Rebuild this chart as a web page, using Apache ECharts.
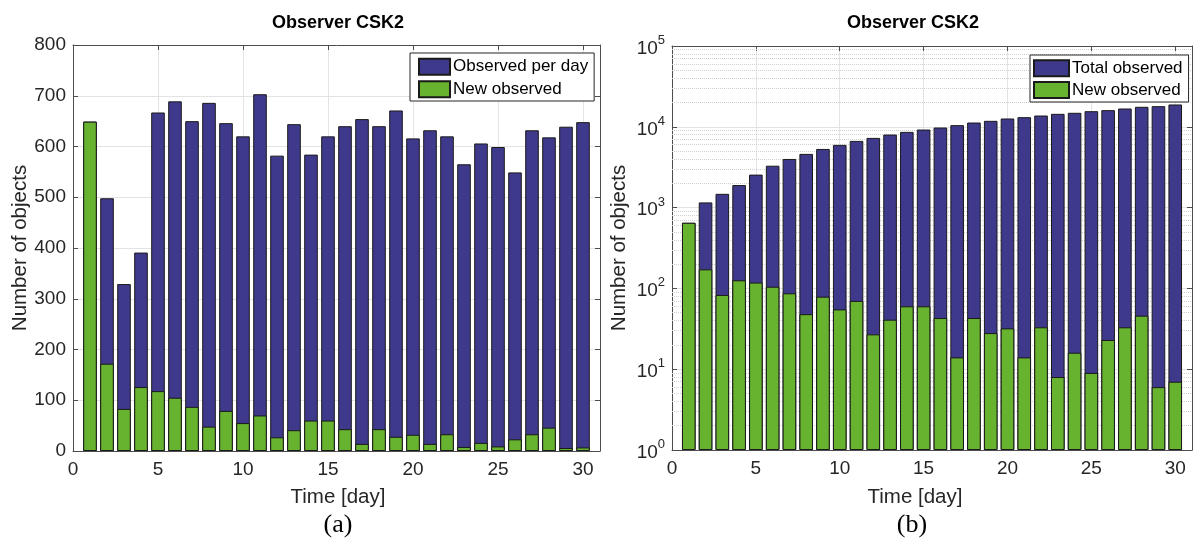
<!DOCTYPE html>
<html>
<head>
<meta charset="utf-8">
<script src="https://cdn.jsdelivr.net/npm/echarts@6/dist/echarts.min.js"></script>
<style>
html,body{margin:0;padding:0;background:#fff;}
#c{width:1195px;height:543px;}
</style>
</head>
<body>
<div id="c"></div>
<script>
const days = [1,2,3,4,5,6,7,8,9,10,11,12,13,14,15,16,17,18,19,20,21,22,23,24,25,26,27,28,29,30];
const observedPerDay = [649,498,329,391,667,689,650,686,646,620,703,582,644,584,620,640,654,640,671,616,632,620,565,606,599,549,632,618,639,648];
const newObserved = [649,172,83,126,118,105,87,48,79,55,70,27,41,60,60,43,14,43,28,32,14,33,8,16,9,23,33,46,6,7];
const totalObserved = [649,1160,1480,1900,2560,3300,4000,4620,5320,5970,6690,7290,8020,8650,9250,9800,10480,11300,11850,12670,13160,13790,14470,14900,15610,16080,16850,17680,18010,18900];
const xTicks = [0,5,10,15,20,25,30];
const minorMultipliers = [2,3,4,5,6,7,8,9];
const decades = [1,10,100,1000,10000];

const FONT = 'Liberation Sans';
const TXT = '#262626';
const AXC = '#4d4d4d';
const GRIDC = '#e3e3e3';
const BLUE = '#3f398c';
const GREEN = '#67b22e';
const EDGE = '#1a1a1a';

const minorVals = [];
decades.forEach(d => minorMultipliers.forEach(m => minorVals.push(d * m)));

function xAxisBottom(grid) {
  return {
    gridIndex: grid, type: 'value', min: 0, max: 31, interval: 5, position: 'bottom',
    axisLine: { show: true, onZero: false, lineStyle: { color: AXC, width: 1 } },
    axisTick: { show: true, inside: true, length: 5, lineStyle: { color: AXC } },
    axisLabel: { fontFamily: FONT, fontSize: 19, color: TXT, margin: 9,
      formatter: v => (xTicks.indexOf(v) >= 0 ? String(v) : '') },
    splitLine: { show: true, lineStyle: { color: GRIDC, width: 1 } }
  };
}
function xAxisTop(grid) {
  return {
    gridIndex: grid, type: 'value', min: 0, max: 31, interval: 5, position: 'top',
    axisLine: { show: true, onZero: false, lineStyle: { color: AXC, width: 1 } },
    axisTick: { show: true, inside: true, length: 5, lineStyle: { color: AXC } },
    axisLabel: { show: false }, splitLine: { show: false }
  };
}

const chart = echarts.init(document.getElementById('c'), null, { renderer: 'canvas' });
const option = {
  animation: false,
  backgroundColor: '#fff',
  grid: [
    { left: 73, top: 45, width: 527, height: 406, containLabel: false },
    { left: 672, top: 46, width: 527, height: 404, containLabel: false }
  ],
  xAxis: [xAxisBottom(0), xAxisTop(0), xAxisBottom(1), xAxisTop(1)],
  yAxis: [
    {
      gridIndex: 0, type: 'value', min: 0, max: 800, interval: 100, position: 'left',
      name: 'Number of objects', nameLocation: 'middle', nameGap: 42, nameRotate: 90,
      nameTextStyle: { fontFamily: FONT, fontSize: 20.5, color: TXT },
      axisLine: { show: true, onZero: false, lineStyle: { color: AXC } },
      axisTick: { show: true, inside: true, length: 5, lineStyle: { color: AXC } },
      axisLabel: { fontFamily: FONT, fontSize: 19, color: TXT, margin: 7 },
      splitLine: { show: true, lineStyle: { color: GRIDC } }
    },
    {
      gridIndex: 0, type: 'value', min: 0, max: 800, interval: 100, position: 'right',
      axisLine: { show: true, onZero: false, lineStyle: { color: AXC } },
      axisTick: { show: true, inside: true, length: 5, lineStyle: { color: AXC } },
      axisLabel: { show: false }, splitLine: { show: false }
    },
    {
      gridIndex: 1, type: 'log', logBase: 10, min: 1, max: 100000, position: 'left',
      name: 'Number of objects', nameLocation: 'middle', nameGap: 42, nameRotate: 90,
      nameTextStyle: { fontFamily: FONT, fontSize: 20.5, color: TXT },
      axisLine: { show: true, onZero: false, lineStyle: { color: AXC } },
      axisTick: { show: true, inside: true, length: 5, lineStyle: { color: AXC } },
      axisLabel: {
        margin: 7,
        formatter: v => '{b|10}{s|' + Math.round(Math.log10(v)) + '}',
        rich: {
          b: { fontFamily: FONT, fontSize: 19, color: TXT, lineHeight: 24, verticalAlign: 'bottom' },
          s: { fontFamily: FONT, fontSize: 13, color: TXT, lineHeight: 24, verticalAlign: 'top' }
        }
      },
      splitLine: { show: true, lineStyle: { color: GRIDC } }
    },
    {
      gridIndex: 1, type: 'log', logBase: 10, min: 1, max: 100000, position: 'right',
      axisLine: { show: true, onZero: false, lineStyle: { color: AXC } },
      axisTick: { show: true, inside: true, length: 5, lineStyle: { color: AXC } },
      axisLabel: { show: false }, splitLine: { show: false }
    }
  ],
  legend: [
    {
      orient: 'vertical', left: 410, top: 53, icon: 'rect', z: 10,
      data: ['Observed per day', 'New observed'],
      itemWidth: 31, itemHeight: 16, itemGap: 2.6,
      padding: [3.7, 6, 1.7, 8],
      borderColor: '#262626', borderWidth: 1, backgroundColor: '#fff',
      selectedMode: false,
      textStyle: { fontFamily: FONT, fontSize: 17, color: '#000', lineHeight: 20, padding: [0, 0, 0, -2] }
    },
    {
      orient: 'vertical', left: 1030, top: 55, icon: 'rect', z: 10,
      data: ['Total observed', 'New observed'],
      itemWidth: 35, itemHeight: 16, itemGap: 1.7,
      padding: [3.3, 6, 2, 3],
      borderColor: '#262626', borderWidth: 1, backgroundColor: '#fff',
      selectedMode: false,
      textStyle: { fontFamily: FONT, fontSize: 17, color: '#000', lineHeight: 20, padding: [0, 0, 0, -2] }
    }
  ],
  series: [
    {
      name: 'Observed per day', type: 'bar', xAxisIndex: 0, yAxisIndex: 0,
      data: days.map((d, i) => [d, observedPerDay[i]]),
      barWidth: 13.6, barGap: '-100%', z: 3,
      itemStyle: { color: BLUE, borderColor: EDGE, borderWidth: 1 }
    },
    {
      name: 'New observed', type: 'bar', xAxisIndex: 0, yAxisIndex: 0,
      data: days.map((d, i) => [d, newObserved[i]]),
      barWidth: 13.6, barGap: '-100%', z: 4,
      itemStyle: { color: GREEN, borderColor: EDGE, borderWidth: 1 }
    },
    {
      type: 'line', xAxisIndex: 2, yAxisIndex: 2, data: [], silent: true, z: 1,
      markLine: {
        silent: true, symbol: 'none', animation: false, z: 1,
        label: { show: false },
        lineStyle: { type: 'dotted', color: '#d0d0d0', width: 1 },
        data: minorVals.map(v => ({ yAxis: v }))
      }
    },
    {
      name: 'Total observed', type: 'bar', xAxisIndex: 2, yAxisIndex: 2,
      data: days.map((d, i) => [d, totalObserved[i]]),
      barWidth: 13.6, barGap: '-100%', z: 3,
      itemStyle: { color: BLUE, borderColor: EDGE, borderWidth: 1 }
    },
    {
      name: 'New observed', type: 'bar', xAxisIndex: 2, yAxisIndex: 2,
      data: days.map((d, i) => [d, newObserved[i]]),
      barWidth: 13.6, barGap: '-100%', z: 4,
      itemStyle: { color: GREEN, borderColor: EDGE, borderWidth: 1 }
    }
  ],
  graphic: [
    { type: 'text', x: 338, y: 23.5, style: { text: 'Observer CSK2', fontFamily: FONT, fontWeight: 'bold', fontSize: 18, fill: '#000', align: 'center', verticalAlign: 'middle' } },
    { type: 'text', x: 913, y: 23.5, style: { text: 'Observer CSK2', fontFamily: FONT, fontWeight: 'bold', fontSize: 18, fill: '#000', align: 'center', verticalAlign: 'middle' } },
    { type: 'text', x: 338, y: 497, style: { text: 'Time [day]', fontFamily: FONT, fontSize: 20.5, fill: TXT, align: 'center', verticalAlign: 'middle' } },
    { type: 'text', x: 915, y: 497, style: { text: 'Time [day]', fontFamily: FONT, fontSize: 20.5, fill: TXT, align: 'center', verticalAlign: 'middle' } },
    { type: 'text', x: 338, y: 525, style: { text: '(a)', fontFamily: 'Liberation Serif', fontSize: 26, fill: '#000', align: 'center', verticalAlign: 'middle' } },
    { type: 'text', x: 912, y: 525, style: { text: '(b)', fontFamily: 'Liberation Serif', fontSize: 26, fill: '#000', align: 'center', verticalAlign: 'middle' } }
  ]
};
chart.setOption(option);
</script>
</body>
</html>
